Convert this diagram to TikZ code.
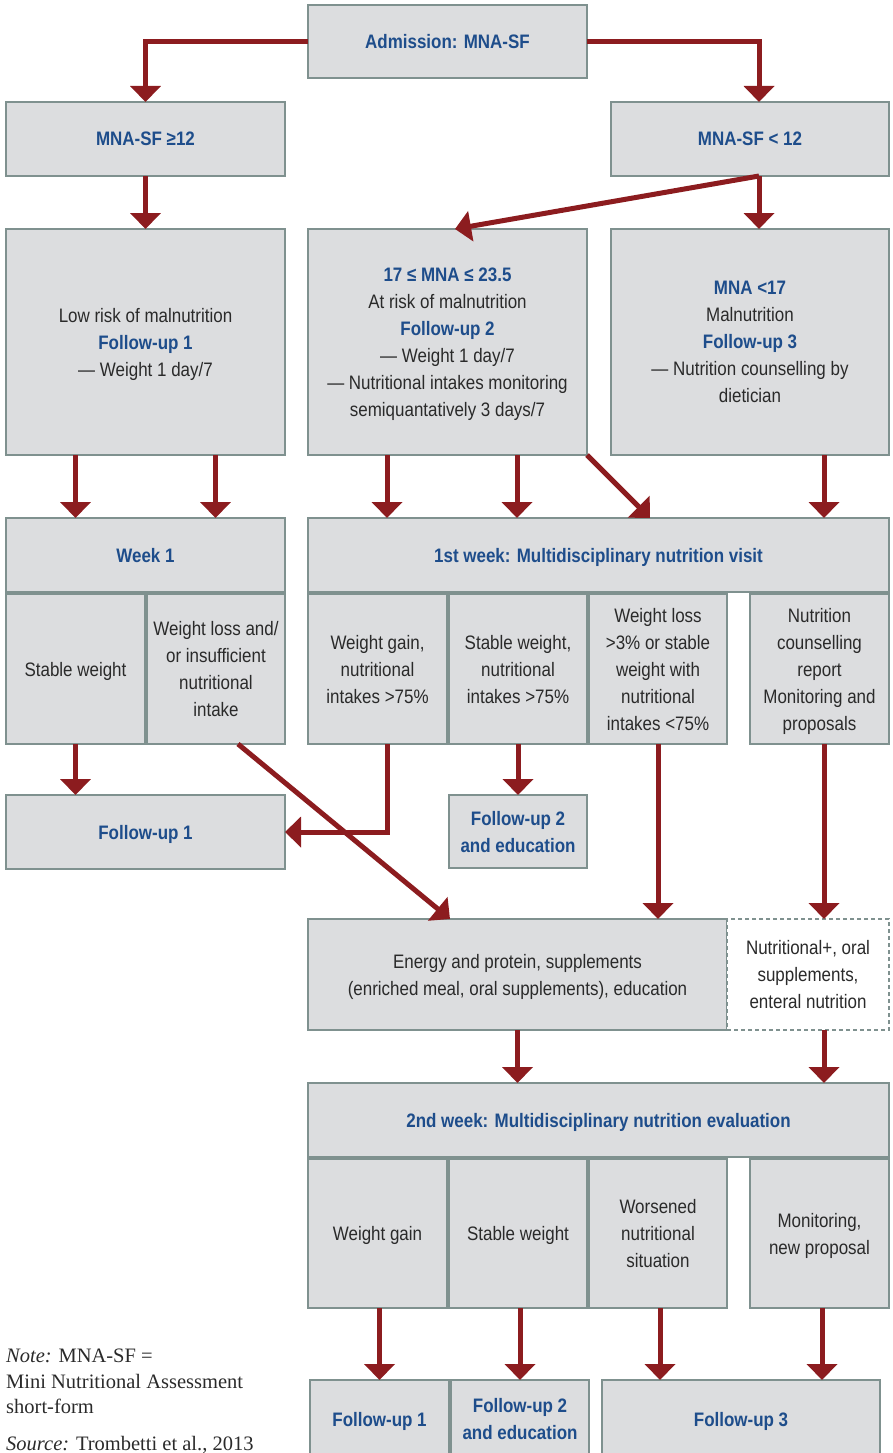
\documentclass[tikz,border=0pt]{standalone}
\usepackage{fontspec}
\setmainfont{Liberation Sans}[FakeStretch=0.87]
\newfontfamily\notefont{Liberation Serif}
\usetikzlibrary{arrows.meta}
\definecolor{boxfill}{HTML}{DCDDDF}
\definecolor{boxline}{HTML}{7F918F}
\definecolor{arrowred}{HTML}{8C1C1F}
\definecolor{headblue}{HTML}{1E4D8B}
\definecolor{txt}{HTML}{2A2A2A}
\newcommand{\blu}[1]{\textcolor{headblue}{\bfseries #1}}
\tikzset{
  span/.style n args={4}{
    at={({(#1+#3)/2},{(#2+#4)/2})},
    minimum width={#3-#1},
    minimum height={#4-#2}
  },
  box/.style={
    draw=boxline,
    fill=boxfill,
    line width=1.3pt,
    inner sep=0pt,
    outer sep=0pt,
    align=center,
    text depth=0pt,
    text=txt,
    font=\fontsize{19.5}{27}\selectfont
  },
  dbox/.style={box, fill=white, dash pattern=on 4pt off 3pt},
  head/.style={box, font=\fontsize{19.5}{27}\selectfont\bfseries, text=headblue},
  flow/.style={draw=arrowred, line width=5pt, -{Triangle[width=30pt,length=16pt]}},
  note/.style={font=\notefont\fontsize{20.5}{25.5}\selectfont, align=left, inner sep=0pt, text=txt}
}
\begin{document}
\begin{tikzpicture}[x=1pt,y=-1pt]
\useasboundingbox (0,0) rectangle (892,1453);

% admission and screening
\node[head, span={308}{5}{587}{78}] (admission) {Admission: MNA-SF};
\node[head, span={6}{102}{285}{176}] (sfhigh) {MNA-SF ≥12};
\node[head, span={611}{102}{889}{176}] (sflow) {MNA-SF < 12};

\node[box, span={6}{229}{285}{455}] (lowrisk)
  {Low risk of malnutrition\\\blu{Follow-up 1}\\— Weight 1 day/7};
\node[box, span={308}{229}{587}{455}] (atrisk)
  {\blu{17 ≤ MNA ≤ 23.5}\\At risk of malnutrition\\\blu{Follow-up 2}\\— Weight 1 day/7\\— Nutritional intakes monitoring\\semiquantatively 3 days/7};
\node[box, span={611}{229}{889}{455}] (malnut)
  {\blu{MNA <17}\\Malnutrition\\\blu{Follow-up 3}\\— Nutrition counselling by\\dietician};

% first week
\node[head, span={6}{518}{285}{592}] (week1) {Week 1};
\node[head, span={308}{518}{889}{592}] (visit) {1st week: Multidisciplinary nutrition visit};
\node[box, span={6}{594}{145}{744}] (w1stable) {Stable weight};
\node[box, span={147}{594}{285}{744}] (w1loss) {Weight loss and/\\or insufficient\\nutritional\\intake};
\node[box, span={308}{594}{447}{744}] (v1gain) {Weight gain,\\nutritional\\intakes >75\%};
\node[box, span={449}{594}{587}{744}] (v1stable) {Stable weight,\\nutritional\\intakes >75\%};
\node[box, span={589}{594}{727}{744}] (v1loss) {Weight loss\\>3\% or stable\\weight with\\nutritional\\intakes <75\%};
\node[box, span={750}{594}{889}{744}] (v1counsel) {Nutrition\\counselling\\report\\Monitoring and\\proposals};

\node[head, span={6}{795}{285}{869}] (fu1a) {Follow-up 1};
\node[head, span={449}{795}{587}{868}] (fu2a) {Follow-up 2\\and education};

\node[box, span={308}{919}{727}{1030}] (energy)
  {Energy and protein, supplements\\(enriched meal, oral supplements), education};
\node[dbox, span={727}{919}{889}{1030}] (enteral) {Nutritional+, oral\\supplements,\\enteral nutrition};

% second week
\node[head, span={308}{1083}{889}{1157}] (eval) {2nd week: Multidisciplinary nutrition evaluation};
\node[box, span={308}{1159}{447}{1308}] (e2gain) {Weight gain};
\node[box, span={449}{1159}{587}{1308}] (e2stable) {Stable weight};
\node[box, span={589}{1159}{727}{1308}] (e2worse) {Worsened\\nutritional\\situation};
\node[box, span={750}{1159}{889}{1308}] (e2monitor) {Monitoring,\\new proposal};

\node[head, span={310}{1380}{449}{1458}] (fu1b) {Follow-up 1};
\node[head, span={451}{1380}{589}{1458}] (fu2b) {Follow-up 2\\and education};
\node[head, span={602}{1380}{880}{1458}] (fu3b) {Follow-up 3};

% notes
\node[note, anchor=north west] (note) at (6,1349)
  {\textit{Note:} MNA-SF =\\Mini Nutritional Assessment\\short-form};
\node[note, anchor=base west] (source) at (6,1450) {\textit{Source:} Trombetti et al., 2013};

% arrows
\draw[flow] (admission.west) -| (sfhigh.north);
\draw[flow] (admission.east) -| ([xshift=9pt]sflow.north);
\draw[flow] (sfhigh.south) -- (lowrisk.north);
\draw[flow] ([xshift=9pt]sflow.south) -- ([xshift=9pt]malnut.north);
\draw[flow] ([xshift=9pt]sflow.south) -- ([xshift=7.5pt]atrisk.north);

\draw[flow] ([xshift=-70pt]lowrisk.south) -- ([xshift=-70pt]week1.north);
\draw[flow] ([xshift=70pt]lowrisk.south) -- ([xshift=70pt]week1.north);
\draw[flow] ([xshift=-60.5pt]atrisk.south) -- ([xshift=-211.5pt]visit.north);
\draw[flow] ([xshift=69.5pt]atrisk.south) -- ([xshift=-81.5pt]visit.north);
\draw[flow] (atrisk.south east) -- ([xshift=51.5pt]visit.north);
\draw[flow] ([xshift=74pt]malnut.south) -- ([xshift=225.5pt]visit.north);

\draw[flow] (w1stable.south) -- ([xshift=-70pt]fu1a.north);
\draw[flow] ([xshift=22pt]w1loss.south) -- ([xshift=-67.5pt]energy.north);
\draw[flow] ([xshift=9.5pt]v1gain.south) |- (fu1a.east);
\draw[flow] (v1stable.south) -- (fu2a.north);
\draw[flow] (v1loss.south) -- ([xshift=140.5pt]energy.north);
\draw[flow] ([xshift=4.5pt]v1counsel.south) -- ([xshift=16pt]enteral.north);

\draw[flow] (energy.south) -- ([xshift=-81pt]eval.north);
\draw[flow] ([xshift=16pt]enteral.south) -- ([xshift=225.5pt]eval.north);

\draw[flow] ([xshift=2pt]e2gain.south) -- (fu1b.north);
\draw[flow] ([xshift=2pt]e2stable.south) -- (fu2b.north);
\draw[flow] ([xshift=2pt]e2worse.south) -- ([xshift=-81pt]fu3b.north);
\draw[flow] ([xshift=2.5pt]e2monitor.south) -- ([xshift=81pt]fu3b.north);
\end{tikzpicture}
\end{document}
